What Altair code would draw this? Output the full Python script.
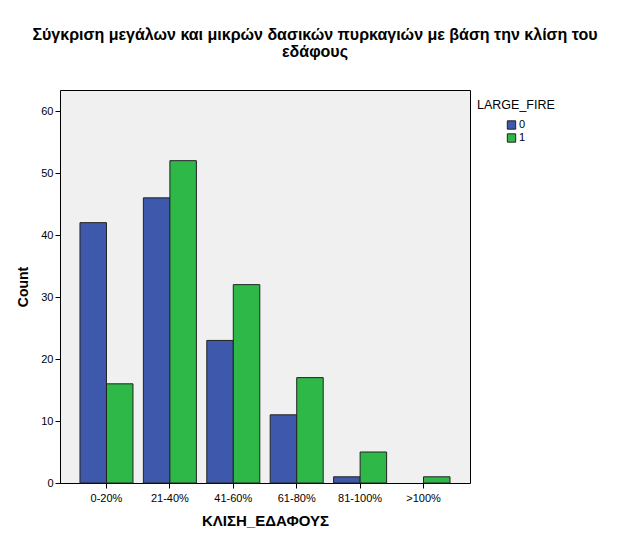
import altair as alt
import pandas as pd

categories = ["0-20%", "21-40%", "41-60%", "61-80%", "81-100%", ">100%"]
fire0 = [42, 46, 23, 11, 1, 0]
fire1 = [16, 52, 32, 17, 5, 1]

rows = []
for c, a, b in zip(categories, fire0, fire1):
    rows.append({"cat": c, "LARGE_FIRE": "0", "Count": a})
    rows.append({"cat": c, "LARGE_FIRE": "1", "Count": b})
df = pd.DataFrame(rows)

FONT = "Liberation Sans"

chart = alt.Chart(df).transform_filter(
    "datum.Count > 0"
).mark_bar(stroke="#222222", strokeWidth=1).encode(
    x=alt.X("cat:N", sort=categories, title="ΚΛΙΣΗ_ΕΔΑΦΟΥΣ",
            scale=alt.Scale(domain=categories, paddingInner=0.164, paddingOuter=0.315),
            axis=alt.Axis(labelAngle=0, labelFontSize=11, labelFont=FONT, labelColor="#000",
                          titleFont=FONT, titleFontSize=15, titleFontWeight="bold", titleColor="#000",
                          titlePadding=10, tickColor="#000", tickSize=5, domain=False, grid=False,
                          labelPadding=4)),
    xOffset=alt.XOffset("LARGE_FIRE:N", scale=alt.Scale(domain=["0", "1"], paddingInner=0, paddingOuter=0)),
    y=alt.Y("Count:Q", title="Count",
            scale=alt.Scale(domain=[0, 63.4], nice=False),
            axis=alt.Axis(values=[0, 10, 20, 30, 40, 50, 60], labelFontSize=11, labelFont=FONT,
                          labelColor="#000", titleFont=FONT, titleFontSize=14, titleFontWeight="bold",
                          titleColor="#000", tickColor="#000", tickSize=5, domain=False, grid=False,
                          titlePadding=10)),
    color=alt.Color("LARGE_FIRE:N",
                    scale=alt.Scale(domain=["0", "1"], range=["#3e58ac", "#2eb848"]),
                    legend=alt.Legend(orient="none", legendX=417, legendY=9, title="LARGE_FIRE",
                                      titleFont=FONT, titleFontSize=12.5, titleFontWeight="normal",
                                      titleColor="#000", labelFont=FONT, labelFontSize=11,
                                      labelColor="#000", symbolType="square", symbolSize=70,
                                      symbolStrokeColor="#222222", symbolStrokeWidth=1,
                                      symbolOffset=29,
                                      offset=0, padding=0, rowPadding=0, titlePadding=8,
                                      labelOffset=2)),
).properties(
    width=410,
    height=393,
    title=alt.Title(["Σύγκριση μεγάλων και μικρών δασικών πυρκαγιών με βάση την κλίση του", "εδάφους"],
                    font=FONT, fontSize=16, fontWeight="bold", color="#000", anchor="middle",
                    dx=50, offset=30, lineHeight=17),
    padding={"left": 52, "top": 82, "right": 151, "bottom": 53},
    autosize=alt.AutoSizeParams(type="none"),
).configure(
    background="white"
).configure_view(
    fill="#f0f0f0", stroke="#000", strokeWidth=1
)

chart.save("out.html", embed_options={"renderer": "svg", "actions": False})
